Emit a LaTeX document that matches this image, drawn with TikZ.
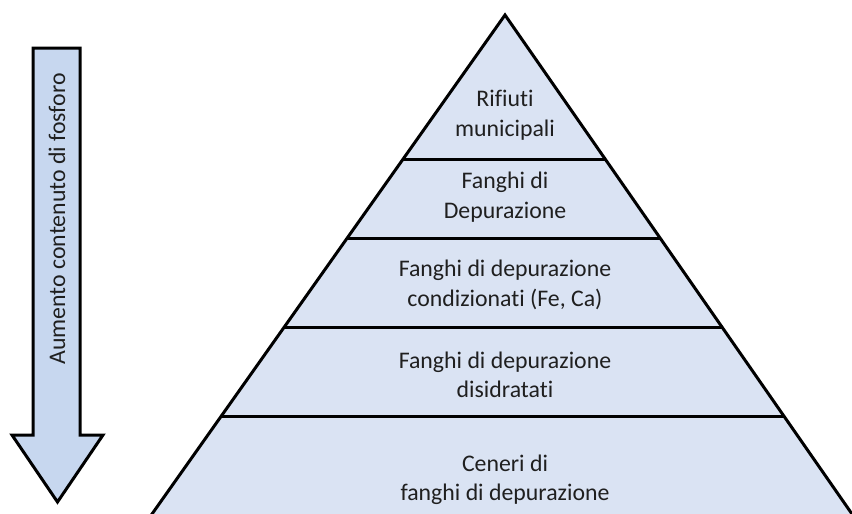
\documentclass[tikz,border=0pt]{standalone}
\usepackage{fontspec}
\setmainfont{Carlito}[Ligatures={NoCommon}]
\usetikzlibrary{calc}
\definecolor{pyrfill}{HTML}{DAE3F3}
\definecolor{arrfill}{HTML}{C7D7EF}
\tikzset{
  layertext/.style={align=center, font=\fontsize{23.8}{29.5}\selectfont, text=black!88, inner sep=0pt},
  edge/.style={line width=3pt, line join=miter},
  divider/.style={line width=3pt},
}
\begin{document}
\begin{tikzpicture}[x=1pt,y=-1pt]
\useasboundingbox (0,0) rectangle (852,514);
\clip (0,0) rectangle (852,514);
% pyramid
\coordinate (apex) at (505,15);
\coordinate (bl) at (152,514);
\coordinate (br) at (852,514);
\fill[pyrfill] (apex) -- ($(apex)!1.05!(bl)$) -- ($(apex)!1.05!(br)$) -- cycle;
\draw[edge] ($(apex)!1.05!(bl)$) -- (apex) -- ($(apex)!1.05!(br)$);
\foreach \t/\n in {0.2886/a,0.4469/b,0.6253/c,0.8036/d}{
  \coordinate (l\n) at ($(apex)!\t!(bl)$);
  \coordinate (r\n) at ($(apex)!\t!(br)$);
  \draw[divider] (l\n) -- (r\n);
}
% texts
\node[layertext] (t1) at (505,115) {Rifiuti\\municipali};
\node[layertext] (t2) at (505,197) {Fanghi di\\Depurazione};
\node[layertext] (t3) at (505,285) {Fanghi di depurazione\\condizionati (Fe, Ca)};
\node[layertext] (t4) at (505,375) {Fanghi di depurazione\\disidratati};
\node[layertext] (t5) at (505,480) {Ceneri di\\fanghi di depurazione};
% arrow
\draw[edge, fill=arrfill] (33,48) -- (80,48) -- (80,435) -- (103,435) -- (57.5,502) -- (12,435) -- (33,435) -- cycle;
\node[layertext, rotate=90] (arr) at (57,219) {Aumento contenuto di fosforo};
\end{tikzpicture}
\end{document}
